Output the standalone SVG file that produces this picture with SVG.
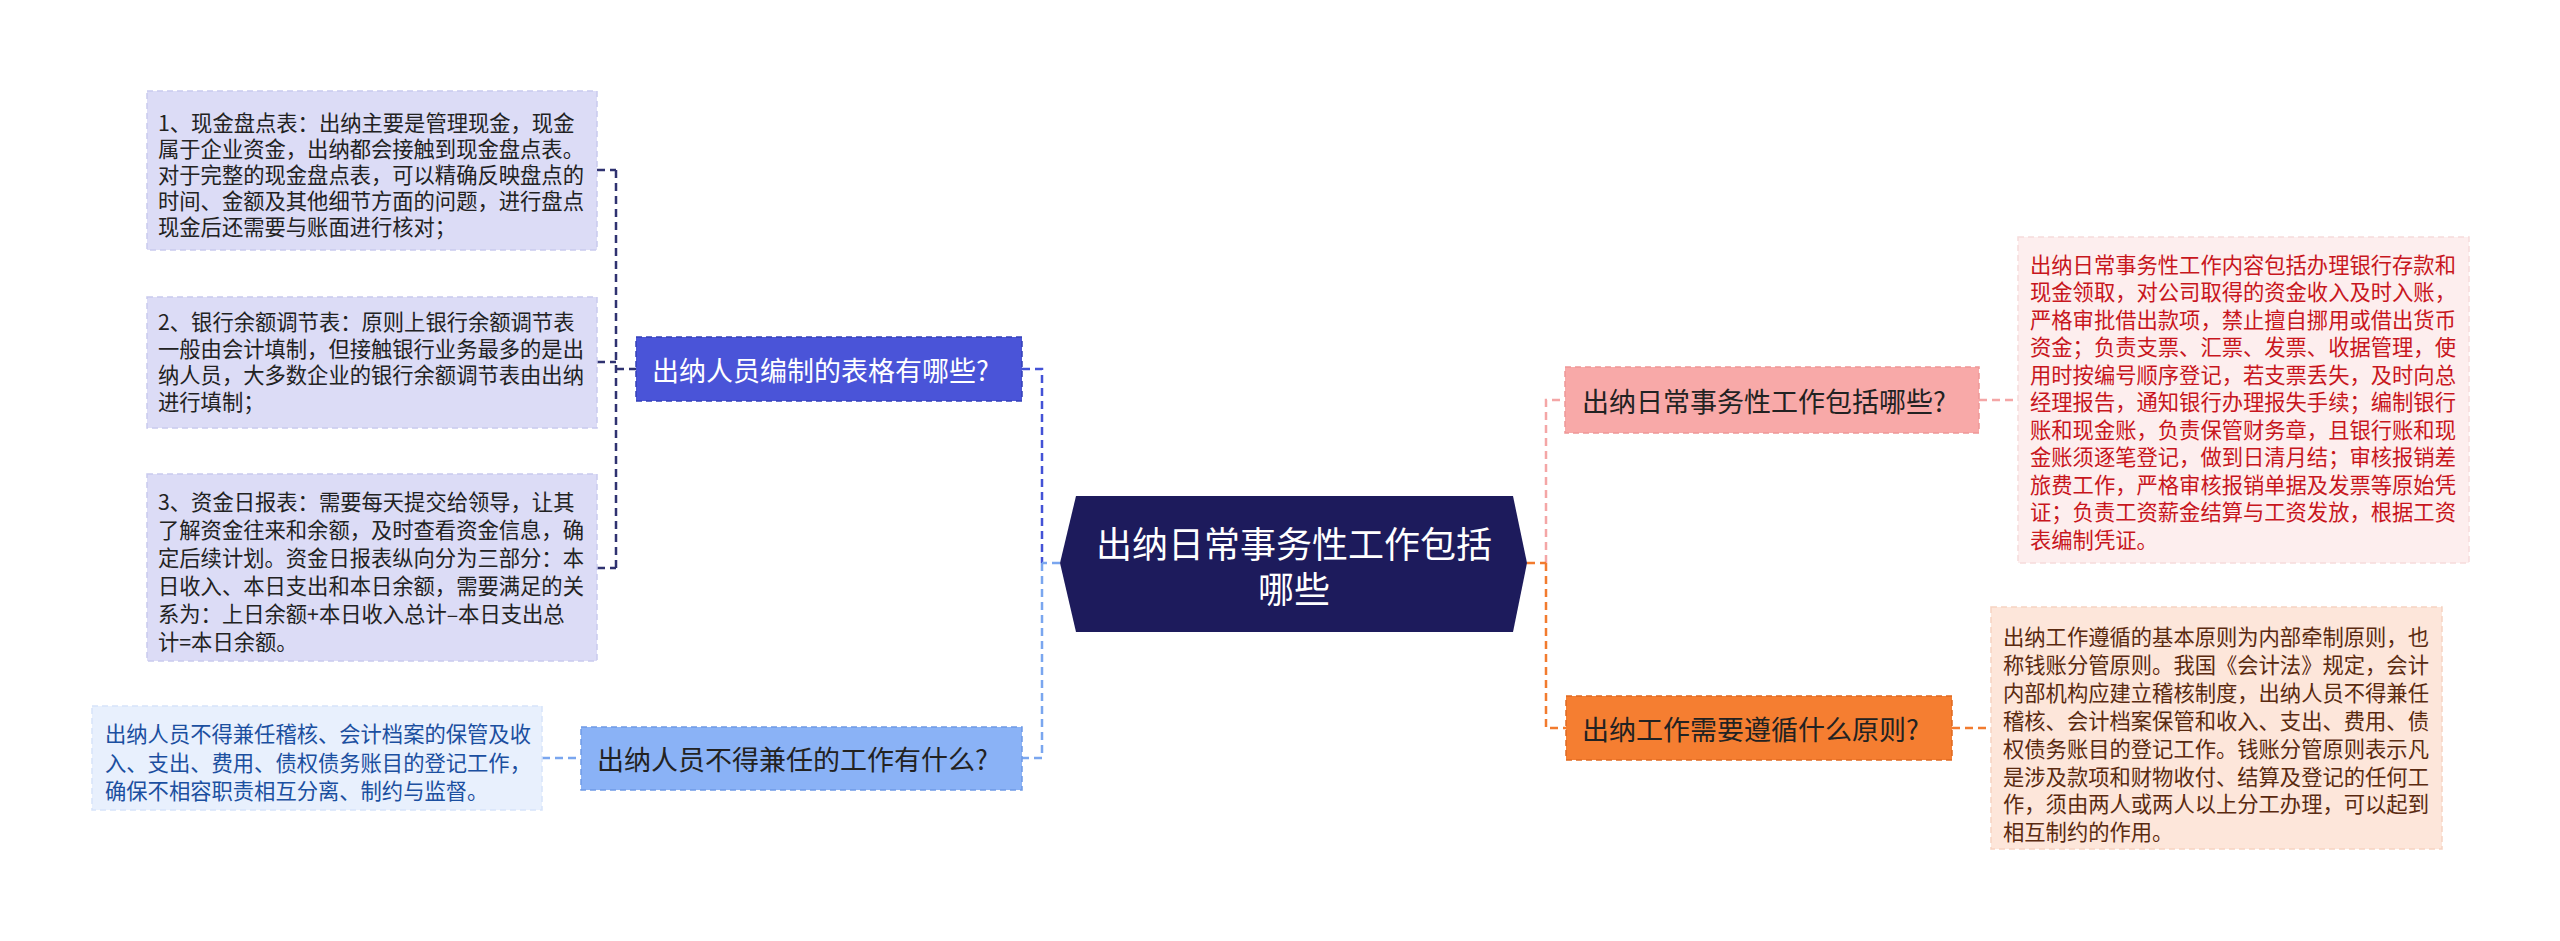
<svg xmlns="http://www.w3.org/2000/svg" width="2560" height="941" viewBox="0 0 2560 941">
<style>
text{font-family:"Noto Sans CJK SC","Noto Sans",sans-serif;dominant-baseline:central}
.leafL rect{fill:#dcdcf6;stroke:#c9caee;stroke-width:1.5;stroke-dasharray:6 4}
.leafL text{font-size:21.3px;fill:#222}
.b rect{stroke-width:1.5;stroke-dasharray:6 4}
.b text{font-size:27px}
.c path{fill:none;stroke-width:2.5;stroke-dasharray:8 5}
</style>
<rect width="2560" height="941" fill="#fff"/>
<g class="c" id="connectors">
<path d="M597,170 H616 M616,170 V568 M597,362 H616 M597,568 H616 M616,369 H636" stroke="#2f3270"/>
<path d="M1022,369 H1042 V563" stroke="#4352d6"/>
<path d="M1042,563 V758 H1022" stroke="#7aa6ef"/>
<path d="M1060,563 H1042" stroke="#7aa6ef" stroke-dasharray="none"/>
<path d="M542,758 H581" stroke="#7aa6ef"/>
<path d="M1546,563 V400 H1565" stroke="#f4a6a6"/>
<path d="M1546,563 V728 H1566" stroke="#f27b2e"/>
<path d="M1527,563 H1546" stroke="#f27b2e" stroke-dasharray="none"/>
<path d="M1979,400 H2018" stroke="#f4a6a6"/>
<path d="M1952,728 H1991" stroke="#f27b2e"/>
</g>
<g id="root">
<polygon points="1060,563 1076,496 1513,496 1527,563 1513,632 1076,632" fill="#1d1b5c"/>
<text font-size="36" fill="#fff" text-anchor="middle"><tspan x="1294" y="542">出纳日常事务性工作包括</tspan><tspan x="1294" y="587">哪些</tspan></text>
</g>
<g id="branch-tables" class="b">
<rect x="636" y="337" width="386" height="64" fill="#4a54d8" stroke="#3540b8"/>
<text x="652" y="369" fill="#fff">出纳人员编制的表格有哪些?</text>
</g>
<g id="branch-noconcurrent" class="b">
<rect x="581" y="727" width="441" height="63" fill="#8ab2f6" stroke="#6f9ae6"/>
<text x="597" y="758" fill="#222">出纳人员不得兼任的工作有什么?</text>
</g>
<g id="branch-daily" class="b">
<rect x="1565" y="367" width="414" height="66" fill="#f8a9a8" stroke="#ee9796"/>
<text x="1582" y="400" fill="#222">出纳日常事务性工作包括哪些?</text>
</g>
<g id="branch-principle" class="b">
<rect x="1566" y="696" width="386" height="64" fill="#f57e31" stroke="#e06a20"/>
<text x="1582" y="728" fill="#222">出纳工作需要遵循什么原则?</text>
</g>
<g id="leaf-cash" class="leafL">
<rect x="147" y="91" width="450" height="159"/>
<text x="158" y="121">1、现金盘点表：出纳主要是管理现金，现金</text>
<text x="158" y="147">属于企业资金，出纳都会接触到现金盘点表。</text>
<text x="158" y="173">对于完整的现金盘点表，可以精确反映盘点的</text>
<text x="158" y="199">时间、金额及其他细节方面的问题，进行盘点</text>
<text x="158" y="225">现金后还需要与账面进行核对；</text>
</g>
<g id="leaf-bank" class="leafL">
<rect x="147" y="297" width="450" height="131"/>
<text x="158" y="320">2、银行余额调节表：原则上银行余额调节表</text>
<text x="158" y="347">一般由会计填制，但接触银行业务最多的是出</text>
<text x="158" y="373">纳人员，大多数企业的银行余额调节表由出纳</text>
<text x="158" y="400">进行填制；</text>
</g>
<g id="leaf-daily-report" class="leafL">
<rect x="147" y="474" width="450" height="187"/>
<text x="158" y="500">3、资金日报表：需要每天提交给领导，让其</text>
<text x="158" y="528">了解资金往来和余额，及时查看资金信息，确</text>
<text x="158" y="556">定后续计划。资金日报表纵向分为三部分：本</text>
<text x="158" y="584">日收入、本日支出和本日余额，需要满足的关</text>
<text x="158" y="612">系为：上日余额+本日收入总计–本日支出总</text>
<text x="158" y="640">计=本日余额。</text>
</g>
<g id="leaf-noconcurrent">
<rect x="92" y="706" width="450" height="104" fill="#e8f0fd" stroke="#d6e3fa" stroke-width="1.5" stroke-dasharray="6 4"/>
<g font-size="21.3" fill="#1b4fa0">
<text x="105" y="732">出纳人员不得兼任稽核、会计档案的保管及收</text>
<text x="105" y="761">入、支出、费用、债权债务账目的登记工作，</text>
<text x="105" y="789">确保不相容职责相互分离、制约与监督。</text>
</g>
</g>
<g id="leaf-daily">
<rect x="2018" y="237" width="451" height="326" fill="#fdeeee" stroke="#f6dcdc" stroke-width="1.5" stroke-dasharray="6 4"/>
<g font-size="21.3" fill="#c8161d">
<text x="2030" y="263">出纳日常事务性工作内容包括办理银行存款和</text>
<text x="2030" y="290.5">现金领取，对公司取得的资金收入及时入账，</text>
<text x="2030" y="318">严格审批借出款项，禁止擅自挪用或借出货币</text>
<text x="2030" y="345.5">资金；负责支票、汇票、发票、收据管理，使</text>
<text x="2030" y="373">用时按编号顺序登记，若支票丢失，及时向总</text>
<text x="2030" y="400.5">经理报告，通知银行办理报失手续；编制银行</text>
<text x="2030" y="428">账和现金账，负责保管财务章，且银行账和现</text>
<text x="2030" y="455.5">金账须逐笔登记，做到日清月结；审核报销差</text>
<text x="2030" y="483">旅费工作，严格审核报销单据及发票等原始凭</text>
<text x="2030" y="510.5">证；负责工资薪金结算与工资发放，根据工资</text>
<text x="2030" y="538">表编制凭证。</text>
</g>
</g>
<g id="leaf-principle">
<rect x="1991" y="607" width="451" height="242" fill="#fde6da" stroke="#f6d3c2" stroke-width="1.5" stroke-dasharray="6 4"/>
<g font-size="21.3" fill="#5a2a10">
<text x="2003" y="635">出纳工作遵循的基本原则为内部牵制原则，也</text>
<text x="2003" y="663">称钱账分管原则。我国《会计法》规定，会计</text>
<text x="2003" y="691">内部机构应建立稽核制度，出纳人员不得兼任</text>
<text x="2003" y="719">稽核、会计档案保管和收入、支出、费用、债</text>
<text x="2003" y="747">权债务账目的登记工作。钱账分管原则表示凡</text>
<text x="2003" y="775">是涉及款项和财物收付、结算及登记的任何工</text>
<text x="2003" y="802">作，须由两人或两人以上分工办理，可以起到</text>
<text x="2003" y="830">相互制约的作用。</text>
</g>
</g>
</svg>
